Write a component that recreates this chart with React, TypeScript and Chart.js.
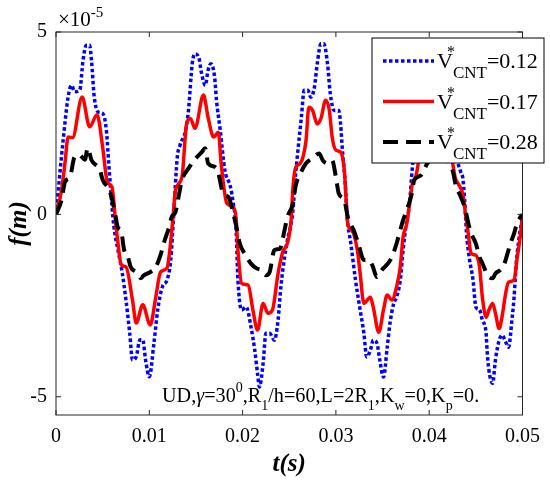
import React, { useEffect, useRef } from "react";
import Chart from "chart.js/auto";

// time (s) and deflection (x 1e-5 m)
const blueT = [
  0, 0.00077, 0.0013, 0.00167, 0.002, 0.00255, 0.0029, 0.00326, 0.0036, 0.0038, 0.0041, 0.0045, 0.005, 0.0054,
  0.0057, 0.0061, 0.0063, 0.0066, 0.0071, 0.0075, 0.0079, 0.0082, 0.0086, 0.009, 0.0093, 0.0096, 0.01, 0.0105,
  0.0109, 0.0114, 0.0119, 0.0123, 0.0126, 0.013, 0.0133, 0.0139, 0.0142, 0.0146, 0.0149, 0.0153, 0.0156, 0.016,
  0.0163, 0.0166, 0.017, 0.0172, 0.0176, 0.0181, 0.0187, 0.019, 0.0193, 0.0195, 0.0199, 0.0204, 0.0209, 0.0213,
  0.0216, 0.0218, 0.0222, 0.0225, 0.0229, 0.0234, 0.0238, 0.0241, 0.0245, 0.0248, 0.0254, 0.0256, 0.0259, 0.0263,
  0.0266, 0.027, 0.0273, 0.0277, 0.028, 0.0284, 0.0287, 0.0291, 0.0294, 0.0298, 0.0303, 0.0305, 0.0307, 0.031,
  0.0312, 0.0316, 0.0321, 0.0326, 0.033, 0.0333, 0.0337, 0.034, 0.0344, 0.0347, 0.0351, 0.0355, 0.0358, 0.0362,
  0.0365, 0.0369, 0.0372, 0.0376, 0.0379, 0.0381, 0.0384, 0.0387, 0.039, 0.0395, 0.04, 0.0405, 0.041, 0.0415,
  0.0419, 0.0424, 0.0428, 0.0431, 0.0434, 0.0436, 0.0438, 0.044, 0.0443, 0.0447, 0.045, 0.0454, 0.0457, 0.0461,
  0.0462, 0.0464, 0.0468, 0.0471, 0.0475, 0.0478, 0.0482, 0.0485, 0.0489, 0.0491, 0.0493, 0.0496, 0.05,
];
const blueY = [
  0, 2.04, 3.22, 3.54, 3.36, 3.41, 4.23, 4.64, 4.64, 4.23, 3.22, 2.81, 2.77, 2.3,
  1.22, -0.07, -0.51, -0.92, -1.6, -2.35, -3.25, -3.99, -3.9, -3.44, -3.44, -3.99, -4.45, -3.52,
  -2.62, -1.99, -1.8, -1.25, -0.07, 1.57, 1.9, 2.31, 2.85, 4.13, 4.4, 4.31, 3.87, 3.54,
  3.95, 4.13, 3.76, 3.13, 2.31, 1.21, 0.75, 0.3, -0.4, -1.8, -2.62, -2.54, -3.09, -3.72,
  -4.36, -4.73, -4.08, -3.26, -3.26, -3.45, -2.9, -1.99, -1.17, -0.71, 0.12, 0.85, 1.68, 2.66,
  3.4, 3.4, 3.21, 3.49, 4.13, 4.68, 4.68, 4.13, 3.31, 2.85, 2.85, 2.49, 1.76, 0.85,
  -0.07, -0.8, -1.8, -2.62, -3.26, -3.91, -3.72, -3.45, -3.53, -3.99, -4.46, -3.64, -2.98, -2.44,
  -2.27, -1.8, -0.98, -0.16, 0.3, 1.0, 1.8, 2.4, 3.3, 3.5, 3.4, 4.2, 4.6, 4.2,
  3.0, 2.6, 1.9, 1.4, 1.15, 1.0, 0.4, -0.52, -1.2, -1.8, -2.54, -2.62, -2.9, -3.26,
  -3.72, -4.27, -4.63, -3.99, -3.45, -3.31, -3.5, -3.64, -2.81, -2.27, -1.44, -0.71, -0.07,
];

const redT = [
  0, 0.0006, 0.00096, 0.0013, 0.00177, 0.0028, 0.0036, 0.0044, 0.005, 0.0055, 0.006, 0.0064, 0.0066, 0.007,
  0.0075, 0.0082, 0.0086, 0.0093, 0.0101, 0.0107, 0.0112, 0.0119, 0.0122, 0.0126, 0.0128, 0.0135, 0.014, 0.0144,
  0.0149, 0.0158, 0.0163, 0.0169, 0.0174, 0.0177, 0.0183, 0.019, 0.0193, 0.0195, 0.0199, 0.0206, 0.0211, 0.0216,
  0.0222, 0.0227, 0.0232, 0.0238, 0.0243, 0.0248, 0.0252, 0.0254, 0.0257, 0.0262, 0.0268, 0.0271, 0.0275, 0.028,
  0.0284, 0.0289, 0.0293, 0.0296, 0.03, 0.0305, 0.0309, 0.0311, 0.0313, 0.0317, 0.0323, 0.0326, 0.033, 0.0337,
  0.034, 0.0346, 0.0351, 0.0355, 0.036, 0.0365, 0.0369, 0.0372, 0.0376, 0.0379, 0.0382, 0.0386, 0.039, 0.0393,
  0.0398, 0.0403, 0.0408, 0.0413, 0.0418, 0.0421, 0.0424, 0.0428, 0.0432, 0.0436, 0.0439, 0.0441, 0.0445, 0.045,
  0.0454, 0.0457, 0.0461, 0.0464, 0.0468, 0.0471, 0.0475, 0.0478, 0.0482, 0.0485, 0.0491, 0.0494, 0.0498, 0.05,
];
const redY = [
  0, 0.67, 1.4, 2.12, 2.1, 3.22, 2.4, 2.73, 1.85, 0.89, 0.75, -0.24, -0.7, -1.39,
  -1.44, -2.35, -2.98, -2.48, -3.03, -2.26, -1.58, -1.47, -0.98, 0.1, 0.66, 1.02, 2.49, 2.63,
  2.36, 3.27, 2.66, 2.12, 2.25, 1.4, 0.31, 0.2, -0.1, -0.98, -1.89, -1.94, -2.62, -3.17,
  -2.44, -2.71, -2.62, -1.62, -1.03, -0.79, -0.16, 0.75, 1.29, 1.4, 2.03, 2.94, 2.85, 2.48,
  2.63, 3.13, 2.85, 2.12, 1.76, 1.71, 1.21, 0.4, -0.3, -0.43, -0.98, -1.62, -2.44, -2.27,
  -2.54, -3.23, -2.62, -2.21, -2.35, -1.99, -1.44, -0.62, -0.25, 0.3, 0.85, 1.07, 1.76, 2.58,
  2.9, 2.5, 2.9, 3.1, 2.6, 2.1, 1.6, 1.0, 0.8, 0.55, 0.0, -0.35, -1.07, -1.12,
  -1.45, -2.27, -2.82, -2.62, -2.44, -2.71, -3.13, -2.82, -2.16, -1.86, -1.8, -1.25, -0.52, -0.02,
];

const blackT = [
  0, 0.0006, 0.00096, 0.0015, 0.002, 0.0025, 0.0031, 0.0034, 0.0038, 0.0047, 0.005, 0.0057, 0.0061, 0.0064,
  0.0066, 0.007, 0.0073, 0.0077, 0.008, 0.0086, 0.0091, 0.0094, 0.0101, 0.0107, 0.0112, 0.0116, 0.0121, 0.0124,
  0.0128, 0.0132, 0.0135, 0.0142, 0.0148, 0.0156, 0.016, 0.0163, 0.0171, 0.0174, 0.0179, 0.0185, 0.019, 0.0193,
  0.0197, 0.0202, 0.0209, 0.0215, 0.022, 0.0225, 0.0229, 0.0234, 0.024, 0.0245, 0.0248, 0.0254, 0.0257, 0.0262,
  0.0268, 0.0275, 0.0282, 0.0286, 0.0291, 0.0296, 0.03, 0.0303, 0.0309, 0.0313, 0.0319, 0.0324, 0.033, 0.0335,
  0.0339, 0.0344, 0.0349, 0.0356, 0.036, 0.0365, 0.0369, 0.0372, 0.0376, 0.0381, 0.0384, 0.0391, 0.0398, 0.0405,
  0.041, 0.0415, 0.042, 0.0425, 0.0429, 0.0433, 0.0438, 0.0443, 0.0445, 0.045, 0.0454, 0.0457, 0.0464, 0.0468,
  0.0471, 0.0476, 0.048, 0.0484, 0.0487, 0.0491, 0.0494, 0.0498, 0.05,
];
const blackY = [
  0, 0.4, 0.89, 1.03, 1.58, 1.63, 1.5, 1.82, 1.49, 1.22, 0.95, 0.67, 0.32, -0.07,
  -0.34, -0.48, -0.97, -1.16, -1.44, -1.58, -1.75, -1.67, -1.58, -1.44, -1.12, -0.75, -0.37, -0.07,
  0.06, 0.57, 0.94, 1.26, 1.48, 1.7, 1.81, 1.4, 1.29, 1.13, 0.58, 0.47, 0.03, -0.3,
  -0.8, -1.07, -1.35, -1.48, -1.53, -1.67, -1.58, -0.98, -0.94, -0.43, -0.07, 0.3, 0.8, 1.12,
  1.4, 1.54, 1.67, 1.48, 1.4, 1.48, 1.02, 0.58, 0.39, -0.1, -0.43, -0.8, -1.25, -1.25,
  -1.39, -1.72, -1.53, -1.34, -1.17, -0.8, -0.43, -0.16, 0.12, 0.53, 0.94, 1.07, 1.4, 1.6,
  1.75, 1.5, 1.45, 1.21, 0.75, 0.53, 0.2, -0.35, -0.52, -0.8, -1.17, -1.34, -1.72, -1.75,
  -1.62, -1.53, -1.39, -1.07, -0.8, -0.52, -0.25, -0.07, 0,
];

const xTicks = [0, 0.01, 0.02, 0.03, 0.04, 0.05];
const yTicks = [-5, 0, 5];
const legendValues = ["0.12", "0.17", "0.28"];

const SERIF = "'Liberation Serif', 'Times New Roman', serif";

type Part = { t: string; font: string; dy?: number; dx?: number; stay?: boolean };

function drawRich(ctx: CanvasRenderingContext2D, x: number, y: number, parts: Part[]) {
  let cx = x;
  for (const p of parts) {
    ctx.font = p.font;
    ctx.fillText(p.t, cx + (p.dx || 0), y + (p.dy || 0));
    if (!p.stay) cx += ctx.measureText(p.t).width + (p.dx || 0);
  }
}

const main = `20.2px ${SERIF}`;
const small = `14px ${SERIF}`;
const legMain = `22px ${SERIF}`;

const decorPlugin = {
  id: "decor",
  afterDatasetsDraw(chart: any) {
    const { ctx, chartArea, scales } = chart;
    const { left, right, top, bottom } = chartArea;
    ctx.save();

    // frame + inward ticks
    ctx.strokeStyle = "#262626";
    ctx.lineWidth = 1;
    ctx.strokeRect(left, top, right - left, bottom - top);
    ctx.beginPath();
    const tl = 5;
    for (const v of xTicks) {
      const px = scales.x.getPixelForValue(v);
      ctx.moveTo(px, bottom);
      ctx.lineTo(px, bottom - tl);
      ctx.moveTo(px, top);
      ctx.lineTo(px, top + tl);
    }
    for (const v of yTicks) {
      const py = scales.y.getPixelForValue(v);
      ctx.moveTo(left, py);
      ctx.lineTo(left + tl, py);
      ctx.moveTo(right, py);
      ctx.lineTo(right - tl, py);
    }
    ctx.stroke();

    ctx.fillStyle = "#000";
    ctx.textBaseline = "alphabetic";
    ctx.textAlign = "left";

    // exponent label
    drawRich(ctx, left + 2, top - 6, [
      { t: "\u00d710", font: `21px ${SERIF}` },
      { t: "-5", font: `15px ${SERIF}`, dy: -9 },
    ]);

    // parameter annotation
    drawRich(ctx, 162, 402, [
      { t: "UD,", font: main },
      { t: "\u03b3", font: `italic ${main}` },
      { t: "=30", font: main },
      { t: "0", font: small, dy: -10 },
      { t: ",R", font: main },
      { t: "1", font: small, dy: 8 },
      { t: "/h=60,L=2R", font: main },
      { t: "1", font: small, dy: 8 },
      { t: ",K", font: main },
      { t: "w", font: small, dy: 8 },
      { t: "=0,K", font: main },
      { t: "p", font: small, dy: 8 },
      { t: "=0.", font: main },
    ]);

    // legend box
    const bx = 372, by = 38, bw = 172, bh = 125;
    ctx.fillStyle = "#fff";
    ctx.fillRect(bx, by, bw, bh);
    ctx.strokeStyle = "#000";
    ctx.lineWidth = 1;
    ctx.strokeRect(bx, by, bw, bh);

    const ds = chart.data.datasets;
    ds.forEach((d: any, i: number) => {
      const cy = 61 + i * 40.5;
      ctx.save();
      ctx.strokeStyle = d.borderColor;
      ctx.lineWidth = d.borderWidth;
      ctx.setLineDash(d.borderDash || []);
      ctx.beginPath();
      ctx.moveTo(383, cy);
      ctx.lineTo(434, cy);
      ctx.stroke();
      ctx.restore();
      ctx.fillStyle = "#000";
      drawRich(ctx, 437, cy + 7, [
        { t: "V", font: legMain },
        { t: "*", font: `16px ${SERIF}`, dy: -11, dx: -6, stay: true },
        { t: "CNT", font: `17px ${SERIF}`, dy: 10 },
        { t: "=" + legendValues[i], font: legMain },
      ]);
    });

    ctx.restore();
  },
};

const App: React.FC = () => {
  const canvasRef = useRef<HTMLCanvasElement>(null);

  useEffect(() => {
    document.body.style.margin = "0";
    const canvas = canvasRef.current;
    if (!canvas) return;

    const toPts = (ts: number[], ys: number[]) => ts.map((t, i) => ({ x: t, y: ys[i] }));

    const chart = new Chart(canvas, {
      type: "line",
      data: {
        datasets: [
          {
            label: "0.12",
            data: toPts(blueT, blueY),
            borderColor: "#0000ff",
            borderWidth: 3.5,
            borderDash: [3.5, 2.5],
            order: 2,
          },
          {
            label: "0.17",
            data: toPts(redT, redY),
            borderColor: "#ff0000",
            borderWidth: 3.5,
            order: 1,
          },
          {
            label: "0.28",
            data: toPts(blackT, blackY),
            borderColor: "#000000",
            borderWidth: 4,
            borderDash: [15, 8],
            order: 0,
          },
        ] as any,
      },
      options: {
        animation: false,
        responsive: false,
        devicePixelRatio: 1,
        events: [],
        layout: { padding: { top: 32, right: 23, left: 0, bottom: 0 } },
        elements: {
          point: { radius: 0 },
          line: { cubicInterpolationMode: "monotone", fill: false, borderCapStyle: "butt" },
        },
        scales: {
          x: {
            type: "linear",
            min: 0,
            max: 0.05,
            grid: { display: false, drawTicks: false },
            border: { display: false },
            afterBuildTicks: (s: any) => {
              s.ticks = xTicks.map((v) => ({ value: v }));
            },
            afterFit: (s: any) => {
              s.height = 65;
            },
            ticks: {
              color: "#000",
              padding: 10,
              maxRotation: 0,
              font: { family: SERIF, size: 20 },
              callback: (v: any) => (Number(v) === 0 ? "0" : Number(v).toFixed(2)),
            },
            title: {
              display: true,
              text: "t(s)",
              color: "#000",
              font: { family: SERIF, size: 25, style: "italic", weight: "bold" },
              padding: { top: 0, bottom: 0 },
            },
          },
          y: {
            type: "linear",
            min: -5.5,
            max: 5,
            grid: { display: false, drawTicks: false },
            border: { display: false },
            afterBuildTicks: (s: any) => {
              s.ticks = yTicks.map((v) => ({ value: v }));
            },
            afterFit: (s: any) => {
              s.width = 56;
            },
            ticks: {
              color: "#000",
              padding: 9,
              font: { family: SERIF, size: 20 },
              callback: (v: any) => String(v),
            },
            title: {
              display: true,
              text: "f(m)",
              color: "#000",
              font: { family: SERIF, size: 25, style: "italic", weight: "bold" },
              padding: { top: 5, bottom: 0 },
            },
          },
        },
        plugins: {
          legend: { display: false },
          tooltip: { enabled: false },
        },
      },
      plugins: [decorPlugin],
    });

    return () => {
      chart.destroy();
    };
  }, []);

  return (
    <div style={{ position: "absolute", left: 0, top: 0, width: 550, height: 480, background: "#fff" }}>
      <canvas ref={canvasRef} width={550} height={480}></canvas>
    </div>
  );
};

export default App;
